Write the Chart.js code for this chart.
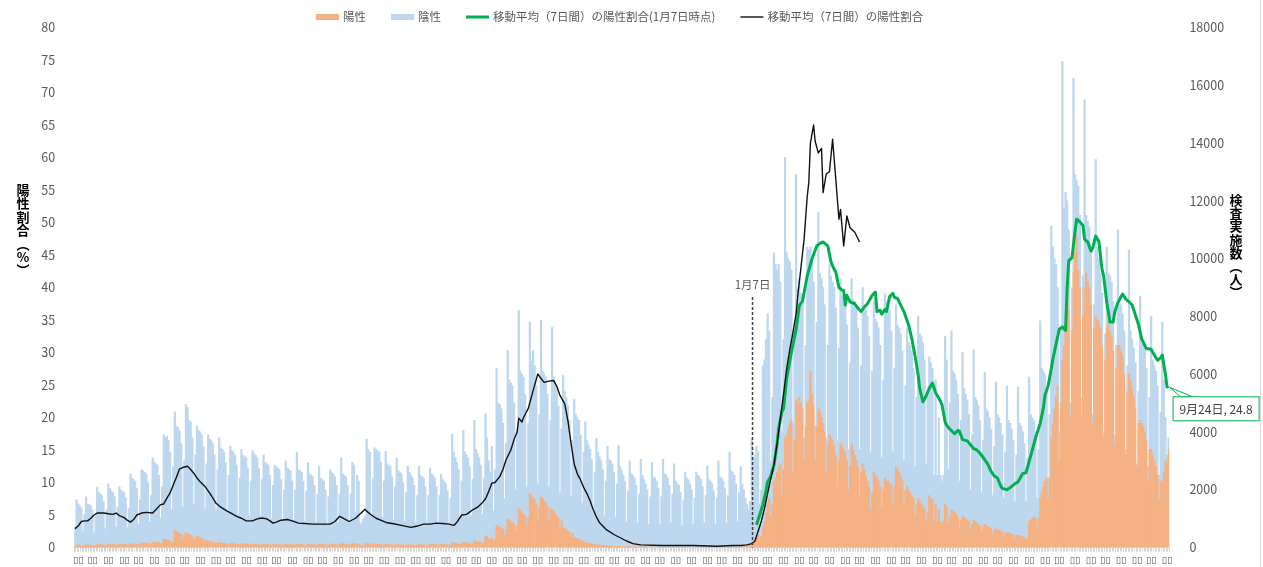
<!DOCTYPE html>
<html lang="ja">
<head>
<meta charset="utf-8">
<title>陽性割合と検査実施数</title>
<script src="https://cdn.jsdelivr.net/npm/chart.js@4.4.1/dist/chart.umd.min.js"></script>
<style>
  html, body { margin: 0; padding: 0; background: #fff; }
</style>
</head>
<body>
<canvas id="graph" width="1263" height="567"></canvas>
<script>
// ---- data (one row = one week, Tue..Mon, from 2020-11-03) ----
const tested = [
  700,1650,1500,1450,1350,550,1150,
  1750,1500,1480,1450,1300,500,1100,
  2080,1900,1850,1800,1600,650,1300,
  2200,2050,1950,1900,1750,700,1400,
  2100,1980,1950,1900,1700,680,1350,
  2550,2400,2350,2300,2050,800,1650,
  2700,2650,2600,2550,2250,900,1800,
  3100,2950,2900,2850,2500,1000,2100,
  3900,3800,3850,3700,3300,1300,2800,
  4700,4200,4150,4050,3600,1400,3000,
  4950,4850,4400,4350,3800,1500,3200,
  4200,4050,4000,3900,3500,1350,2900,
  3900,3750,3700,3600,3200,1300,2700,
  3800,3450,3400,3300,2950,1200,2500,
  3500,3350,3300,3200,2850,1150,2400,
  3400,3200,3150,3100,2750,1100,2300,
  3350,3250,3200,3100,2750,1100,2350,
  3200,2950,2900,2850,2500,1000,2150,
  2850,2800,2750,2700,2350,950,2000,
  3000,2750,2700,2650,2300,950,2000,
  3300,2700,2650,2600,2300,900,1950,
  2950,2550,2500,2450,2150,850,1850,
  2800,2400,2350,2300,2000,800,1750,
  2700,2600,2550,2450,2150,850,1850,
  3100,2550,2500,2450,2150,850,1850,
  2950,2850,1200,2500,2300,800,900,
  1000,1100,3750,3400,3300,1100,2400,
  3450,3400,3350,3300,2950,1050,2300,
  3330,2900,2850,2800,2450,950,2100,
  3100,2650,2600,2550,2250,900,1900,
  2820,2600,2500,2400,2150,850,1800,
  2820,2500,2450,2400,2100,850,1800,
  2760,2550,2500,2400,2100,850,1800,
  2530,2350,2300,2200,1950,800,1700,
  3920,3300,3100,2950,2700,1050,2300,
  4060,3300,3200,3100,2800,1100,2350,
  4400,3400,3250,3100,2850,1150,2400,
  4630,3800,3000,2600,3500,1250,2700,
  6200,5000,4950,4800,4300,1700,3600,
  6820,5800,5700,5600,5000,2000,4100,
  8200,6100,6000,5900,5300,2100,4300,
  7800,6450,6820,6300,5600,2200,4600,
  7860,6100,6000,5900,5300,2100,4400,
  7630,5900,5700,5500,4900,1900,4100,
  5960,5400,5200,4900,4400,1750,3700,
  5130,4600,4500,4400,3900,1550,3300,
  4350,3700,3550,3400,3050,1200,2600,
  3775,3300,3150,3000,2700,1100,2300,
  3500,3050,3000,2900,2600,1050,2200,
  3545,2800,2650,2500,2300,900,1950,
  3000,2550,2500,2400,2150,850,1850,
  3060,2500,2350,2200,2000,800,1750,
  2950,2450,2400,2300,2050,800,1750,
  3060,2550,2500,2400,2150,850,1850,
  2900,2300,2200,2150,1900,750,1650,
  2600,2400,2350,2200,2000,800,1700,
  2600,2500,2450,2350,2100,850,1800,
  2830,2350,2300,2200,1950,800,1700,
  3000,2450,2400,2300,2050,850,1800,
  3300,2650,2600,2500,2200,900,1900,
  2800,2200,2000,1700,1500,1300,1600,
  3780,3100,3200,3500,3300,1500,2000,
  6300,6500,7200,8100,7500,3000,5200,
  10200,9800,9600,9800,9200,4000,7200,
  13500,10200,10000,9900,9600,4300,7600,
  12900,9000,9300,8800,8700,3800,7000,
  10400,10300,10400,10000,9200,4200,7800,
  11600,9500,9300,9000,8400,3800,7000,
  9800,9400,9200,9000,8300,3700,6900,
  9300,8700,8600,8400,7700,3400,6400,
  9300,8600,8500,8300,7600,3400,6300,
  9000,8300,8200,8000,7300,3300,6100,
  8500,7900,7800,7600,7000,3100,5800,
  8800,8500,8400,8200,7500,3300,6200,
  8400,7700,7600,7400,6800,3000,5600,
  7600,7100,7000,6800,6200,2800,5200,
  8000,7400,7300,7100,6500,2900,5400,
  6600,6400,6200,2500,5800,2500,4500,
  2500,2300,2500,7300,6500,2700,5000,
  7500,6100,6000,5800,5300,2300,4400,
  6750,5500,5300,5100,4600,2000,3900,
  6850,5200,5100,4900,4400,1900,3700,
  6075,4800,4700,4500,4100,1800,3500,
  5730,4600,4500,4300,3900,1700,3300,
  5600,4400,4300,4100,3700,1600,3200,
  5550,4300,4200,4000,3600,1600,3100,
  5900,4600,4500,4400,4000,1700,3400,
  7850,6200,6100,6000,5400,2400,4600,
  11130,10400,10000,9800,9000,4000,7600,
  16820,11740,12300,12000,11000,5000,9000,
  16250,12900,12700,12500,11500,5200,9400,
  15500,11500,11300,11100,10200,4600,8400,
  13430,10400,10000,9500,8800,4000,7400,
  10400,9500,9400,9200,8500,3900,7000,
  11000,8700,8400,8100,7500,3400,6300,
  10300,7500,7200,6900,6400,2900,5400,
  8700,7300,7100,6900,6200,2800,5200,
  8000,6500,6300,6100,5600,2500,4700,
  7800,5800,4500,3200,3800
];

const positive = [
  60,80,80,70,70,40,60,
  90,85,80,80,70,45,70,
  100,95,90,90,80,50,75,
  110,105,100,100,90,60,85,
  120,115,110,110,100,65,95,
  130,125,120,120,110,70,100,
  160,155,150,150,135,90,130,
  190,185,180,175,160,110,150,
  280,270,260,250,220,150,200,
  600,560,520,500,450,300,420,
  520,500,460,430,380,250,350,
  390,370,340,320,290,190,260,
  230,220,200,190,170,120,160,
  170,160,150,145,130,90,120,
  150,140,130,125,115,80,110,
  140,130,120,115,105,75,100,
  130,120,110,110,100,70,95,
  125,115,110,105,95,65,90,
  115,110,100,100,90,60,85,
  115,105,100,100,90,60,85,
  115,105,100,100,90,60,85,
  115,105,100,100,90,60,85,
  110,105,100,95,90,60,80,
  125,115,110,105,95,65,90,
  140,130,120,115,105,70,100,
  150,140,80,130,120,75,70,
  80,80,150,140,130,80,100,
  130,120,115,110,100,65,95,
  115,105,100,100,90,60,85,
  105,100,95,90,80,55,75,
  100,95,90,90,80,55,75,
  100,95,90,90,80,55,75,
  115,110,100,100,90,60,85,
  115,110,100,100,90,60,85,
  170,165,150,145,130,90,125,
  185,175,160,155,140,95,135,
  230,220,200,195,175,120,170,
  400,380,300,280,330,210,300,
  780,740,700,680,630,420,600,
  1000,950,900,870,800,540,770,
  1350,1300,1200,1150,1080,720,1030,
  1850,1800,1700,1650,1500,1000,1400,
  1750,1700,1600,1550,1420,950,1350,
  1300,1250,1150,1100,1000,680,950,
  700,660,620,580,530,350,500,
  340,320,300,280,260,170,240,
  170,160,150,140,130,90,120,
  90,85,80,75,70,45,65,
  55,52,50,48,44,30,42,
  40,38,35,33,30,20,28,
  28,27,25,24,22,15,20,
  22,21,20,19,17,12,16,
  17,16,15,14,13,9,12,
  17,16,15,14,13,9,12,
  14,13,12,12,11,7,10,
  14,13,12,12,11,7,10,
  14,13,12,12,11,7,10,
  17,16,15,14,13,9,12,
  17,16,15,14,13,9,12,
  23,22,20,19,17,12,16,
  30,35,40,45,50,50,70,
  120,180,260,350,420,300,380,
  700,900,1200,1500,1700,1100,1500,
  2300,2400,2600,2800,2900,1800,2700,
  3800,3900,4100,4300,4400,2600,3700,
  5100,5000,5200,5000,4800,3000,4200,
  5000,5100,6100,5300,4900,3000,4200,
  4800,4700,4500,4300,4000,2600,3600,
  3900,3800,3700,3500,3200,2100,3000,
  3600,3500,3400,3300,3000,2000,2800,
  3600,3400,3200,3000,2800,1800,2600,
  2900,2700,2500,2300,2100,1300,1900,
  2600,2500,2400,2300,2100,1400,2000,
  2400,2300,2300,2200,2200,1500,2100,
  2800,2700,2600,2500,2300,1500,2000,
  2100,2000,1900,1800,1700,1100,1500,
  1700,1600,1500,1450,1350,900,1200,
  1800,1700,1650,900,1500,900,1300,
  900,800,900,1500,1400,800,1100,
  1300,1250,1200,1150,1050,700,950,
  1100,1050,1000,950,900,600,800,
  950,900,850,800,750,500,700,
  800,750,720,700,650,420,600,
  650,620,600,580,540,350,500,
  520,500,480,460,430,280,400,
  420,400,380,370,350,250,330,
  900,950,1000,1050,1000,700,1000,
  1700,1900,2100,2300,2400,1700,2400,
  3800,4300,4800,5200,5600,3000,5000,
  6500,7000,7700,8400,8200,4500,7500,
  9500,10200,10790,9600,9000,4500,8000,
  9000,9500,9200,9000,8400,4300,7600,
  8000,7900,7800,7600,7000,3800,6500,
  7600,7800,7500,7300,6800,3500,6200,
  7000,7000,6800,6600,6000,3200,5400,
  6000,5800,5500,5200,4800,2800,4300,
  4400,4300,4200,4000,3700,2300,3400,
  3400,3200,3000,2800,2500,1600,2300,
  2300,2600,3000,2900,3400
];

// 7-day positivity (%) read at [day index, value]
const rateAll = [
  [0,2.9],[2,3.3],[4,4.0],[6,4.1],[8,4.1],[10,4.5],[12,5.0],[14,5.3],[18,5.3],[21,5.2],
  [24,5.1],[26,5.3],[28,4.9],[31,4.6],[33,4.2],[35,3.9],[37,4.3],[39,5.0],[42,5.3],[45,5.4],
  [49,5.3],[51,5.8],[54,6.6],[56,6.7],[58,7.6],[60,8.4],[62,9.6],[64,10.8],[66,12.1],[68,12.3],
  [71,12.5],[73,12.0],[75,11.4],[77,10.7],[79,10.1],[82,9.4],[84,8.7],[86,8.0],[89,6.8],[92,6.2],
  [96,5.6],[99,5.2],[102,4.8],[105,4.5],[108,4.1],[112,4.1],[115,4.4],[117,4.5],[119,4.5],[121,4.4],
  [123,4.1],[125,3.75],[127,3.9],[130,4.2],[134,4.3],[137,4.1],[141,3.75],[145,3.7],[150,3.6],[155,3.6],
  [161,3.6],[164,4.0],[167,4.8],[170,4.4],[173,4.0],[177,4.5],[180,5.2],[183,5.9],[184,5.6],[187,5.0],
  [190,4.5],[194,4.1],[197,3.8],[201,3.65],[206,3.4],[212,3.1],[216,3.3],[220,3.6],[224,3.6],[228,3.75],
  [232,3.7],[236,3.6],[239,3.4],[241,3.9],[244,5.0],[247,5.1],[251,5.8],[254,6.2],[257,6.9],[259,7.5],
  [261,8.6],[263,9.9],[265,10.0],[268,10.9],[270,12.0],[272,13.5],[275,15.0],[277,16.6],[279,17.8],[280,19.9],
  [282,19.3],[283,20.0],[286,21.4],[289,24.1],[292,26.7],[294,26.0],[296,25.4],[299,25.6],[302,25.7],[304,24.8],
  [306,23.4],[309,22.1],[311,19.5],[313,16.0],[315,12.8],[317,11.3],[319,10.4],[321,9.2],[323,8.3],[325,7.2],
  [327,5.8],[329,4.7],[331,3.8],[335,2.8],[340,2.0],[344,1.5],[348,1.0],[352,0.6],[357,0.4],[370,0.3],
  [390,0.3],[405,0.2],[415,0.3],[420,0.3],[424,0.4],[427,0.6],[429,1.0],[431,2.5],[433,4.0],[435,6.0],
  [438,9.5],[441,12.7],[443,16.0],[445,19.8],[447,23.5],[449,27.5],[451,30.5],[453,33.1],[455,36.0],[456,38.7],
  [458,43.0],[460,47.4],[462,54.0],[463,56.2],[464,62.2],[466,65.0],[467,62.5],[469,60.7],[471,61.4],[472,54.6],
  [474,57.5],[476,57.8],[478,62.8],[480,56.7],[482,50.5],[483,52.0],[485,46.4],[487,51.0],[489,49.2],[492,48.5],
  [495,47.0]
];

const rateFromJan7 = [
  [430,3.5],[432,5.0],[434,6.6],[436,8.8],[437,10.1],[439,11.0],[441,12.7],[443,16.0],[444,18.3],[446,20.9],
  [447,21.3],[449,26.0],[452,30.0],[455,33.6],[457,37.2],[459,37.9],[461,40.5],[462,41.8],[465,44.4],[468,46.4],
  [470,46.8],[472,47.0],[474,46.6],[475,46.4],[477,43.9],[479,42.8],[480,42.4],[482,40.0],[484,39.6],[485,39.5],
  [486,37.3],[487,38.8],[489,37.8],[492,37.5],[494,36.8],[496,36.3],[498,37.0],[500,37.5],[503,38.8],[505,39.3],
  [506,36.3],[508,36.5],[509,35.9],[511,36.6],[512,36.3],[514,38.6],[516,39.1],[517,38.5],[519,38.3],[521,37.3],
  [523,36.3],[526,34.2],[528,32.1],[530,29.5],[532,26.5],[533,24.4],[535,22.4],[537,23.3],[539,24.5],[541,25.3],
  [543,23.8],[545,23.0],[547,22.0],[549,19.3],[550,18.8],[552,18.2],[555,17.5],[557,18.0],[558,17.9],[560,16.6],
  [563,16.4],[565,15.8],[567,15.2],[569,15.0],[571,14.5],[574,13.5],[576,12.8],[578,11.7],[580,11.0],[582,10.7],
  [584,9.5],[585,9.1],[588,8.9],[590,9.2],[591,9.4],[593,9.8],[595,10.1],[598,11.4],[600,11.5],[602,13.2],
  [604,15.0],[606,16.8],[609,19.1],[611,21.5],[612,23.4],[614,24.9],[616,27.5],[617,29.0],[619,31.3],[621,33.6],
  [623,33.9],[625,33.4],[626,40.0],[627,44.1],[629,44.6],[631,48.7],[632,50.5],[634,50.1],[636,49.5],[637,47.4],
  [639,47.0],[641,45.6],[642,46.0],[644,47.9],[646,47.1],[648,42.8],[649,41.8],[651,37.7],[653,34.7],[655,34.7],
  [656,36.2],[658,37.7],[661,39.0],[663,38.2],[665,37.8],[667,37.3],[669,35.8],[671,34.3],[673,32.1],[676,30.6],
  [679,30.5],[681,29.6],[683,28.8],[685,29.2],[686,29.6],[688,26.7],[689,24.7],[690,24.8]
];

const xTickText = '▯▯';      // axis labels render as empty boxes in the original
const xTickCount = 72;        // boxes spread from the 2nd to the 690th day
const markDay = '2022-1-7';
const markText = '1月7日';
const leftTitle = ['陽', '性', '割', '合', '︵', '%', '︶'];
const rightTitle = ['検', '査', '実', '施', '数', '︵', '人', '︶'];

// ---- build ----
const days = tested.map((_, i) => {
  const d = new Date(2020, 10, 3 + i);
  return d.getFullYear() + '-' + (d.getMonth() + 1) + '-' + d.getDate();
});
const negative = tested.map((t, i) => t - positive[i]);
const toPoints = arr => arr.map(([d, v]) => ({ x: days[d], y: v }));
const tickAt = new Set(Array.from({ length: xTickCount },
  (_, k) => Math.round(1.5 + k * (687.5 / (xTickCount - 1)))));

const FONT = '"Noto Sans CJK JP", "Noto Sans", sans-serif';
const GREY = '#595959';

const overlay = {
  id: 'overlay',
  afterDraw(chart) {
    const { ctx, chartArea, scales } = chart;
    ctx.save();

    // legend
    ctx.font = '11.5px ' + FONT;
    ctx.textBaseline = 'middle';
    ctx.textAlign = 'left';
    let lx = 316;
    const ly = 17;
    chart.data.datasets.forEach(ds => {
      if (ds.type === 'bar') {
        ctx.fillStyle = ds.backgroundColor;
        ctx.fillRect(lx, ly - 3, 23, 6);
      } else {
        ctx.strokeStyle = ds.borderColor;
        ctx.lineWidth = ds.borderWidth;
        ctx.beginPath();
        ctx.moveTo(lx, ly);
        ctx.lineTo(lx + 23, ly);
        ctx.stroke();
      }
      lx += 27;
      ctx.fillStyle = GREY;
      ctx.fillText(ds.label, lx, ly);
      lx += ctx.measureText(ds.label).width + 25;
    });

    // vertical axis titles
    ctx.fillStyle = '#000';
    ctx.font = 'bold 13px ' + FONT;
    ctx.textAlign = 'center';
    leftTitle.forEach((c, i) => ctx.fillText(c, 23, 190 + i * 13.4));
    rightTitle.forEach((c, i) => ctx.fillText(c, 1236, 200 + i * 13.2));

    // 1月7日 marker
    const mx = scales.x.getPixelForValue(days.indexOf(markDay)) - 4;
    ctx.strokeStyle = '#404040';
    ctx.lineWidth = 1.5;
    ctx.setLineDash([3, 2]);
    ctx.beginPath();
    ctx.moveTo(mx, 297);
    ctx.lineTo(mx, chartArea.bottom);
    ctx.stroke();
    ctx.setLineDash([]);
    ctx.fillStyle = GREY;
    ctx.font = '11.5px ' + FONT;
    ctx.fillText(markText, mx, 285);

    // callout on the last green point
    const meta = chart.getDatasetMeta(2);
    const p = meta.data[meta.data.length - 1];
    const last = rateFromJan7[rateFromJan7.length - 1];
    const ld = new Date(2020, 10, 3 + last[0]);
    const txt = (ld.getMonth() + 1) + '月' + ld.getDate() + '日, ' + last[1];
    const bx = p.x + 4, by = p.y + 10, bw = 86, bh = 24;
    ctx.fillStyle = '#fff';
    ctx.strokeStyle = '#00B050';
    ctx.lineWidth = 1;
    ctx.beginPath();
    ctx.moveTo(p.x + 1, p.y + 1);
    ctx.lineTo(bx + 8, by + 0.5);
    ctx.lineTo(bx + 20, by + 0.5);
    ctx.closePath();
    ctx.fill();
    ctx.stroke();
    ctx.fillRect(bx + 0.5, by + 0.5, bw, bh);
    ctx.strokeRect(bx + 0.5, by + 0.5, bw, bh);
    ctx.fillStyle = '#404040';
    ctx.font = '12px ' + FONT;
    ctx.textAlign = 'center';
    ctx.fillText(txt, bx + bw / 2 + 0.5, by + bh / 2 + 1);

    // frame line at right edge
    ctx.strokeStyle = '#d9d9d9';
    ctx.beginPath();
    ctx.moveTo(1260.5, 0);
    ctx.lineTo(1260.5, chart.height);
    ctx.stroke();
    ctx.restore();
  }
};

new Chart(document.getElementById('graph'), {
  data: {
    labels: days,
    datasets: [
      { type: 'bar', label: '陽性', data: positive, backgroundColor: '#F4B183', yAxisID: 'y1',
        stack: 's', barPercentage: 1, categoryPercentage: 1, borderWidth: 0, order: 2 },
      { type: 'bar', label: '陰性', data: negative, backgroundColor: '#BDD7EE', yAxisID: 'y1',
        stack: 's', barPercentage: 1, categoryPercentage: 1, borderWidth: 0, order: 2 },
      { type: 'line', label: '移動平均（7日間）の陽性割合(1月7日時点)', data: toPoints(rateFromJan7),
        borderColor: '#00B050', borderWidth: 3, pointRadius: 0, tension: 0, yAxisID: 'y', order: 1,
        borderJoinStyle: 'round' },
      { type: 'line', label: '移動平均（7日間）の陽性割合', data: toPoints(rateAll),
        borderColor: '#111', borderWidth: 1.4, pointRadius: 0, tension: 0, yAxisID: 'y', order: 0,
        borderJoinStyle: 'round' }
    ]
  },
  options: {
    responsive: false,
    animation: false,
    layout: { padding: { top: 27.5, left: 0, right: 0, bottom: 0 } },
    plugins: { legend: { display: false }, tooltip: { enabled: false } },
    scales: {
      x: {
        stacked: true,
        offset: true,
        grid: { display: true, drawOnChartArea: false, drawTicks: true, tickLength: 4, color: '#d4d4d4' },
        border: { display: true, color: '#d9d9d9' },
        ticks: {
          autoSkip: false, maxRotation: 0, padding: 3.5,
          font: { family: '"DejaVu Sans"', size: 9.5 }, color: GREY,
          callback: (v, i) => (tickAt.has(i) ? xTickText : '')
        },
        afterFit: s => { s.height = 17.5; }
      },
      y: {
        position: 'left', min: 0, max: 80,
        ticks: { stepSize: 5, padding: 11, font: { family: FONT, size: 12.5 }, color: GREY },
        grid: { display: false }, border: { display: false },
        afterFit: s => { s.width = 74.2; }
      },
      y1: {
        position: 'right', min: 0, max: 18000, stacked: true,
        ticks: { stepSize: 2000, padding: 12, font: { family: FONT, size: 12.5 }, color: GREY,
          callback: v => String(v) },
        grid: { display: false }, border: { display: false },
        afterFit: s => { s.width = 93.6; }
      }
    }
  },
  plugins: [overlay]
});
</script>
</body>
</html>
